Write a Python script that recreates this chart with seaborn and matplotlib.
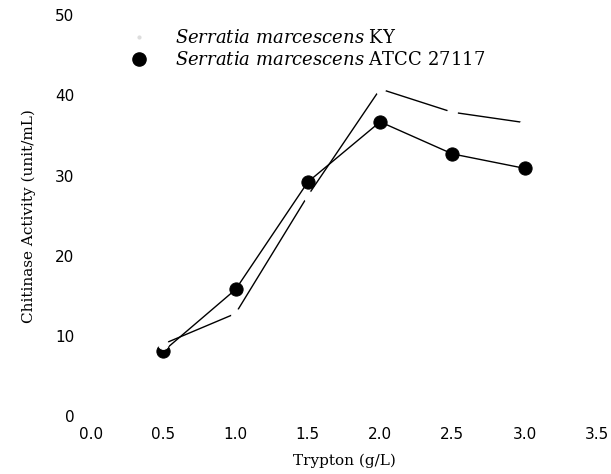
import numpy as np
import pandas as pd
import seaborn as sns
import matplotlib.pyplot as plt
from matplotlib.lines import Line2D

# data
trypton = [0.5, 1.0, 1.5, 2.0, 2.5, 3.0]
ky = [9.0, 12.8, 27.5, 40.8, 37.9, 36.6]
atcc = [8.1, 15.8, 29.2, 36.7, 32.7, 30.9]
xticks = [0.0, 0.5, 1.0, 1.5, 2.0, 2.5, 3.0, 3.5]
yticks = [0, 10, 20, 30, 40, 50]

sns.set_style("white")
plt.rcParams['font.family'] = ['DejaVu Sans']
plt.rcParams['mathtext.fontset'] = 'dejavuserif'
plt.rcParams['text.color'] = 'black'
plt.rcParams['axes.labelcolor'] = 'black'
plt.rcParams['xtick.color'] = 'black'
plt.rcParams['ytick.color'] = 'black'

df = pd.DataFrame({'x': trypton, 'ky': ky, 'atcc': atcc})

fig = plt.figure(figsize=(6.11, 4.74), dpi=100)
ax = fig.add_axes([0.149, 0.122, 0.828, 0.846])

# ATCC 27117: black filled circles
sns.lineplot(data=df, x='x', y='atcc', ax=ax, color='black', lw=1.0,
             marker='o', markersize=9.5, markeredgecolor='black', zorder=2)
# KY: line broken by white (invisible) markers
sns.lineplot(data=df, x='x', y='ky', ax=ax, color='black', lw=1.0,
             marker='o', markersize=7, markerfacecolor='white',
             markeredgecolor='white', zorder=3)

ax.set_xlim(0, 3.5)
ax.set_ylim(0, 50)
ax.set_xticks(xticks)
ax.set_xticklabels([f"{t:.1f}" for t in xticks])
ax.set_yticks(yticks)
ax.tick_params(axis='both', length=0, labelsize=11)
ax.tick_params(axis='y', pad=12)
ax.tick_params(axis='x', pad=8)
for s in ax.spines.values():
    s.set_visible(False)

ax.set_xlabel('Trypton (g/L)', family='DejaVu Serif', fontsize=11, labelpad=8)
ax.set_ylabel('Chitinase Activity (unit/mL)', family='DejaVu Serif',
              fontsize=11, labelpad=14)

handles = [
    Line2D([], [], ls='none', marker='o', markersize=2, color='#dddddd'),
    Line2D([], [], ls='none', marker='o', markersize=9.5, color='black'),
]
labels = [r'$\mathit{Serratia\ marcescens}$ KY',
          r'$\mathit{Serratia\ marcescens}$ ATCC 27117']
leg = ax.legend(handles, labels, loc='upper left', bbox_to_anchor=(0.045, 1.005),
                frameon=False, handlelength=1.0, handletextpad=1.5,
                labelspacing=0.2, prop={'family': 'DejaVu Serif', 'size': 13})

fig.savefig('out.png', dpi=100)
